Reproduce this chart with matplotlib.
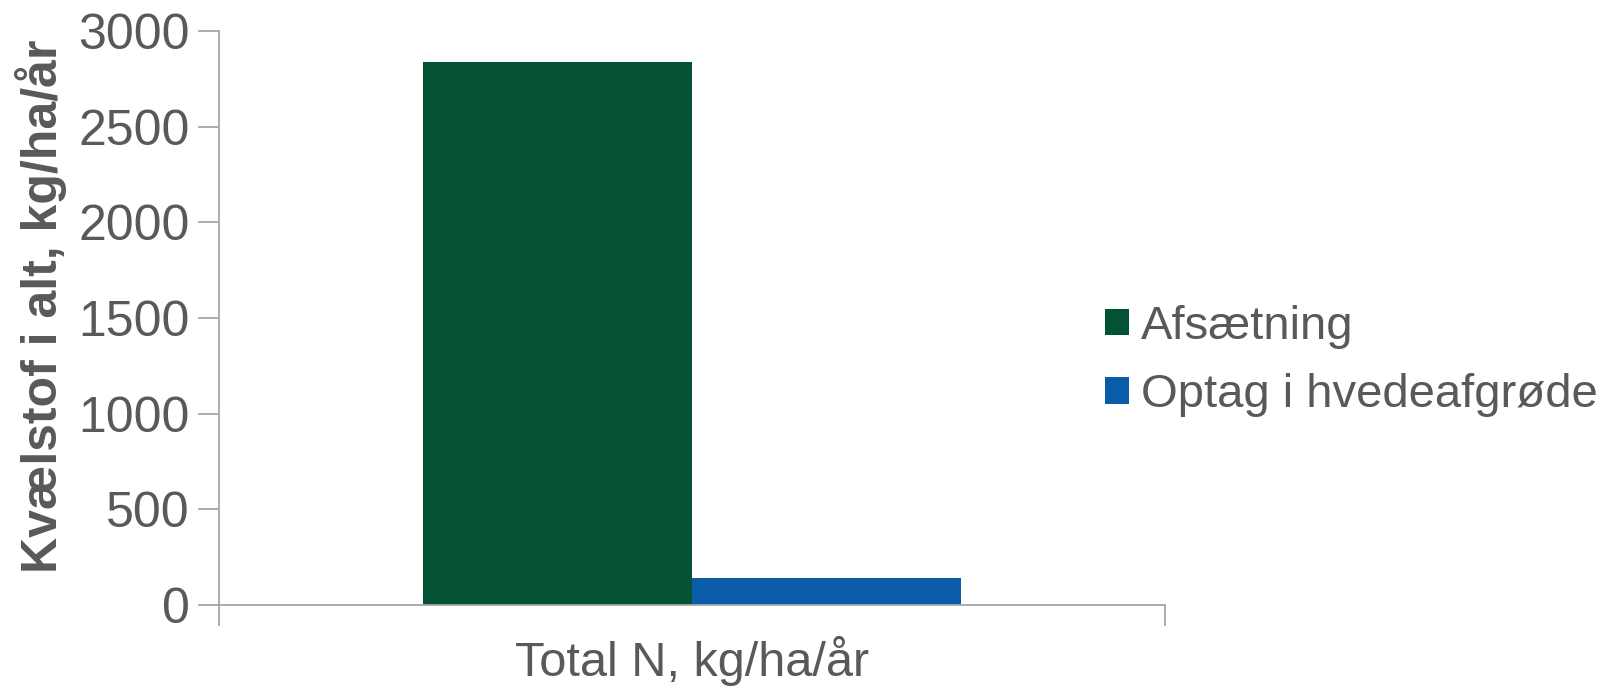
import matplotlib
matplotlib.use("Agg")
from matplotlib import pyplot as plt

categories = ["Total N, kg/ha/år"]
series_names = ["Afsætning", "Optag i hvedeafgrøde"]
afsaetning = [2840]
optag = [143]
yticks = [0, 500, 1000, 1500, 2000, 2500, 3000]

green = "#035233"
blue = "#0A5BA8"
grey_text = "#595959"
grey_line = "#A6A6A6"

plt.rcParams["font.family"] = ["Liberation Sans", "DejaVu Sans"]

fig = plt.figure(figsize=(16.2, 6.87), dpi=100)
ax = fig.add_axes([219 / 1620, 1 - 605 / 687, (1165 - 219) / 1620, (605 - 31) / 687])

w = 0.284
x = list(range(len(categories)))
ax.bar([i - w / 2 for i in x], afsaetning, width=w, color=green, label=series_names[0])
ax.bar([i + w / 2 for i in x], optag, width=w, color=blue, label=series_names[1])

ax.set_xlim(-0.5, 0.5)
ax.set_ylim(0, 3000)
ax.set_yticks(yticks)
ax.tick_params(axis="y", labelsize=36, colors=grey_line, labelcolor=grey_text,
               length=15, width=1.3, direction="out", pad=6)

ax.set_xticks(x)
ax.set_xticklabels(categories)
ax.tick_params(axis="x", which="major", length=0, labelsize=35, labelcolor=grey_text, pad=22)
ax.set_xticks([-0.5, 0.5], minor=True)
ax.tick_params(axis="x", which="minor", length=15, width=1.3, colors=grey_line, direction="out")

for s in ["top", "right"]:
    ax.spines[s].set_visible(False)
for s in ["left", "bottom"]:
    ax.spines[s].set_color(grey_line)
    ax.spines[s].set_linewidth(1.3)

ax.set_ylabel("Kvælstof i alt, kg/ha/år", fontsize=36, fontweight="bold", color=grey_text)
ax.yaxis.set_label_coords(-0.161, 0.52)

ax.legend(loc="center left", bbox_to_anchor=(1105 / 1620, 1 - 361 / 687), bbox_transform=fig.transFigure,
          frameon=False, fontsize=34, labelcolor=grey_text, handlelength=0.5, handleheight=0.5,
          handletextpad=0.26, labelspacing=0.52, borderaxespad=0, borderpad=0)

fig.savefig("out.png", dpi=100)
